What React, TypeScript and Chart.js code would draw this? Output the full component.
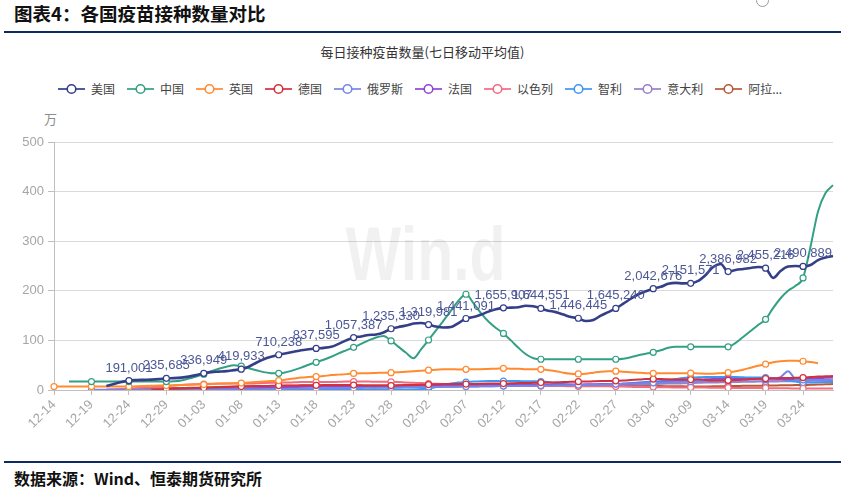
import React, { useEffect, useRef } from "react";
import { Chart, registerables } from "chart.js";
Chart.register(...registerables);

const dates = [
  "12-14","12-15","12-16","12-17","12-18",
  "12-19","12-20","12-21","12-22","12-23",
  "12-24","12-25","12-26","12-27","12-28",
  "12-29","12-30","12-31","01-01","01-02",
  "01-03","01-04","01-05","01-06","01-07",
  "01-08","01-09","01-10","01-11","01-12",
  "01-13","01-14","01-15","01-16","01-17",
  "01-18","01-19","01-20","01-21","01-22",
  "01-23","01-24","01-25","01-26","01-27",
  "01-28","01-29","01-30","01-31","02-01",
  "02-02","02-03","02-04","02-05","02-06",
  "02-07","02-08","02-09","02-10","02-11",
  "02-12","02-13","02-14","02-15","02-16",
  "02-17","02-18","02-19","02-20","02-21",
  "02-22","02-23","02-24","02-25","02-26",
  "02-27","02-28","03-01","03-02","03-03",
  "03-04","03-05","03-06","03-07","03-08",
  "03-09","03-10","03-11","03-12","03-13",
  "03-14","03-15","03-16","03-17","03-18",
  "03-19","03-20","03-21","03-22","03-23",
  "03-24","03-25","03-26","03-27","03-28",
];

const seriesNames = ["美国", "中国", "英国", "德国", "俄罗斯", "法国", "以色列", "智利", "意大利", "阿拉..."];
const seriesColors = ["#343f88", "#33a083", "#ff8a30", "#d3303b", "#7387e6", "#9146d2", "#f26b7f", "#3f96f2", "#9a80c6", "#b55a36"];

const yTicks = [0, 100, 200, 300, 400, 500];

// unit: 万 (10,000 doses)
const usData = [
  null, null, null, null, null,
  null, null, 8, 12, 16,
  19.1001, 20, 20.5, 21, 22,
  23.5685, 24, 25, 27, 30,
  33.6949, 36, 37, 38, 40,
  41.9933, 47, 55, 62, 67,
  71.0238, 74, 77, 80, 82,
  83.7595, 85, 87, 93, 100,
  105.7387, 108, 111, 112, 116,
  123.533, 127, 130, 134, 135,
  131.9981, 128, 126, 127, 135,
  144.1091, 147, 152, 158, 163,
  165.5907, 166, 167, 170, 169,
  164.4551, 160, 157, 152, 147,
  144.6445, 139, 141, 150, 157,
  164.524, 174, 184, 193, 199,
  204.2676, 208, 214, 216, 215,
  215.1571, 220, 232, 248, 254,
  238.6982, 242, 244, 246, 248,
  245.5216, 226, 240, 249, 250,
  249.0889, 252, 262, 267, 270,
];

const chinaData = [
  null, null, 17, 17, 17,
  17, 17, 17, 17, 17,
  17, 17, 17, 17, 17,
  17, 17.5, 19, 23, 27,
  32, 38, 43, 47, 50,
  48, 44, 40, 36, 34,
  33.6, 36, 40, 45, 51,
  55.8, 61, 67, 74, 80,
  86, 93, 100, 106, 109,
  99, 87, 75, 64, 82,
  100.8, 120, 140, 160, 180,
  193, 175, 155, 138, 125,
  114, 100, 85, 72, 64,
  62, 62, 62, 62, 62,
  62, 62, 62, 62, 62,
  62, 63, 66, 70, 73,
  76, 80, 85, 87, 87,
  87, 87, 87, 87, 87,
  87, 95, 107, 119, 131,
  142.5, 165, 185, 200, 210,
  226, 289, 360, 397, 413,
];

const ukData = [
  7, 7, 7, 7, 7,
  7, 7, 7, 7, 7,
  7, 7.5, 8, 8.5, 9,
  9, 9.5, 10, 10.5, 11,
  11, 12, 12.5, 13, 13.5,
  14, 15, 16, 17, 18,
  19, 21, 23, 25, 26,
  27, 28, 30, 31, 32,
  33.5, 34, 34, 34.5, 35,
  35, 36, 37, 38, 39,
  40, 41, 42, 42, 41.5,
  41.6, 42, 42, 42.5, 43,
  43.6, 43, 43, 42, 42,
  41.6, 40, 38, 35, 33,
  32.5, 33, 35, 37, 38,
  38, 37, 36, 35, 34,
  33.6, 34, 34, 34, 34,
  34, 33.5, 33, 33, 34,
  35, 38, 41, 45, 49,
  52, 56, 58, 59, 59,
  58, 56.5, 54, null, null,
];

const germanyData = [
  null, null, null, null, null,
  null, null, null, null, null,
  null, null, null, 0.5, 1,
  2, 2.5, 3, 3.5, 4,
  4.5, 5, 5.5, 6, 6.5,
  7, 7.5, 8, 8, 8.5,
  9, 9, 9, 9.5, 9.5,
  9.5, 10, 10, 10, 10,
  10, 9.5, 9, 9, 9,
  9, 9.5, 10, 10, 10.5,
  11, 11.5, 12, 12, 12,
  12, 12, 12.5, 13, 13,
  13, 13.5, 14, 14, 14.5,
  15, 15, 15.5, 16, 16.5,
  17, 17, 17.5, 18, 18,
  18.5, 19, 20, 21, 22,
  22, 22, 21.5, 21, 21,
  21, 21, 20, 19, 19,
  19.5, 20, 21, 22, 22.5,
  23, 23.5, 24, 24, 24.5,
  25, 26, 27, 27.5, 28,
];

const russiaData = [
  null, null, null, null, null,
  0.5, 0.5, 0.5, 0.5, 0.5,
  0.6, 0.6, 0.7, 0.7, 0.8,
  0.8, 0.9, 0.9, 1, 1,
  1, 1, 1.1, 1.2, 1.3,
  1.4, 1.5, 1.6, 1.8, 2,
  2, 2.2, 2.4, 2.6, 2.8,
  3, 3.2, 3.4, 3.6, 3.8,
  4, 4.2, 4.4, 4.6, 4.8,
  5, 5.2, 5.4, 5.6, 5.8,
  6, 6.2, 6.4, 6.6, 6.8,
  7, 7.2, 7.4, 7.6, 7.8,
  8, 8.2, 8.4, 8.6, 8.8,
  9, 9.2, 9.4, 9.6, 9.8,
  10, 10.3, 10.6, 11, 11.5,
  12, 12.5, 13, 13.5, 14,
  14.5, 15, 15.5, 16, 16.5,
  17, 17.5, 18, 18.5, 19,
  19.5, 20, 20.5, 21, 21.5,
  22, 23, 26, 38, 22,
  20.5, 20, 20, 20, 20,
];

const franceData = [
  null, null, null, null, null,
  null, null, null, null, null,
  null, null, null, 0.1, 0.1,
  0.1, 0.1, 0.1, 0.2, 0.2,
  0.3, 0.5, 1, 1.5, 2,
  2.5, 3, 3.5, 4, 4.5,
  5, 5.5, 6, 6.5, 7,
  7, 7.5, 7.5, 8, 8,
  8, 8, 8, 8, 8,
  8, 8.5, 8.5, 9, 9,
  9, 9.5, 9.5, 10, 10,
  10, 10, 10, 10.5, 10.5,
  10.5, 10.5, 11, 11, 11,
  11, 11, 11, 11, 11,
  11, 11.5, 11.5, 12, 12,
  12, 12.5, 13, 14, 14.5,
  15, 16, 17, 18, 19,
  20, 21, 21.5, 22, 22,
  22, 22, 22, 21.5, 21.5,
  21, 21, 21.5, 22, 22,
  22, 23, 24, 24.5, 25,
];

const israelData = [
  null, null, null, null, null,
  null, null, 1, 1.5, 2,
  2.5, 3.5, 4.5, 5.5, 7,
  8, 9, 10, 11, 11.5,
  12, 12.5, 13, 13, 13,
  13, 13, 13.5, 14, 14.5,
  15, 15, 15.5, 16, 16,
  16, 16, 16, 16.5, 17,
  17, 17, 17, 16.5, 16.5,
  16.5, 16, 15, 14.5, 14,
  13, 12.5, 12, 11.5, 11,
  11, 11, 11, 11, 11,
  10.5, 10, 9.5, 9, 8.5,
  8, 8, 8, 8, 7.5,
  7.5, 7.5, 7.5, 7.5, 7.5,
  7, 7, 6.5, 6, 6,
  6, 5.5, 5.5, 5, 5,
  5, 5, 5, 4.5, 4.5,
  4.5, 4, 4, 4, 4,
  4, 3.5, 3.5, 3.5, 3,
  3, 3, 3, 3, 3,
];

const chileData = [
  null, null, null, null, null,
  null, null, null, null, null,
  0.2, 0.2, 0.2, 0.2, 0.2,
  0.2, 0.2, 0.2, 0.2, 0.2,
  0.3, 0.3, 0.3, 0.3, 0.3,
  0.3, 0.3, 0.3, 0.3, 0.3,
  0.4, 0.4, 0.4, 0.4, 0.4,
  0.4, 0.4, 0.4, 0.4, 0.4,
  0.5, 0.5, 0.5, 0.5, 0.5,
  0.5, 0.5, 0.6, 1, 2,
  3, 6, 10, 13, 15,
  16, 17, 17.5, 18, 18,
  18, 18, 18, 17.5, 17.5,
  17, 16, 14, 12, 10.5,
  10, 10, 10, 10.5, 11,
  11.5, 12.5, 14, 15, 16,
  17, 18, 20, 22, 24,
  25, 25.5, 26, 26, 26,
  26, 26, 25.5, 25, 25,
  25, 24, 22, 19, 17,
  15, 15, 15.5, 16, 16,
];

const italyData = [
  null, null, null, null, null,
  null, null, null, null, null,
  null, null, null, 0.1, 0.2,
  0.3, 0.5, 0.8, 1, 1.5,
  2, 2.5, 3, 4, 4.5,
  5, 5.5, 6, 6.5, 7,
  7, 7, 7, 7, 7,
  7, 6.5, 6.5, 6, 6,
  6, 5.5, 5.5, 5, 5,
  5, 5, 5.5, 5.5, 6,
  6, 6, 6.5, 6.5, 7,
  7, 7, 7.5, 7.5, 8,
  8, 8, 8, 8.5, 8.5,
  8.5, 8.5, 9, 9, 9,
  9, 9, 9.5, 9.5, 10,
  10, 10.5, 11, 11, 11.5,
  12, 12.5, 13, 13, 13.5,
  14, 14.5, 15, 15, 15.5,
  16, 16, 16.5, 16.5, 17,
  17, 17, 17.5, 17.5, 18,
  18, 18.5, 18.5, 19, 19,
];

const uaeData = [
  null, null, null, null, null,
  null, null, null, null, null,
  2, 2.5, 3, 3, 3.5,
  3.5, 4, 4, 4.5, 4.5,
  5, 5.5, 6, 6.5, 7,
  7, 7.5, 7.5, 8, 8,
  8, 8.5, 8.5, 9, 9,
  9, 9, 9, 9, 9,
  9, 9, 9, 9, 9,
  9, 9, 9.5, 9.5, 9.5,
  9.5, 10, 10, 10, 10,
  10, 10, 10, 10, 10,
  10, 10, 10, 10, 10,
  10, 10, 9.5, 9.5, 9.5,
  9, 9, 9, 9, 9,
  9, 8.5, 8.5, 8.5, 8,
  8, 8, 7.5, 7.5, 7.5,
  7, 7, 7, 7.5, 7.5,
  8, 8, 8.5, 8.5, 8.5,
  9, 9, 9.5, 9.5, 10,
  10, 10.5, 11, 11.5, 12,
];

const seriesData = [usData, chinaData, ukData, germanyData, russiaData, franceData, israelData, chileData, italyData, uaeData];

const watermarkPlugin = {
  id: "watermark",
  beforeDatasetsDraw(chart: any) {
    const { ctx, chartArea } = chart;
    ctx.save();
    ctx.font = 'bold 76px "Liberation Sans", Arial, sans-serif';
    ctx.fillStyle = "rgba(0,0,0,0.055)";
    ctx.textAlign = "center";
    ctx.textBaseline = "middle";
    const cx = chartArea.left + (chartArea.right - chartArea.left) * 0.477;
    const cy = chartArea.top + (chartArea.bottom - chartArea.top) * 0.47;
    const w = ctx.measureText("Win.d").width;
    ctx.translate(cx, cy);
    ctx.scale(160 / w, 1);
    ctx.fillText("Win.d", 0, 0);
    ctx.restore();
  },
};

const usLabelPlugin = {
  id: "usLabels",
  afterDatasetsDraw(chart: any) {
    const meta = chart.getDatasetMeta(0);
    const ctx = chart.ctx;
    ctx.save();
    ctx.font = '13px "Liberation Sans", Arial, sans-serif';
    ctx.fillStyle = "#4c5796";
    ctx.textAlign = "center";
    ctx.textBaseline = "alphabetic";
    meta.data.forEach((pt: any, i: number) => {
      const v = usData[i];
      if (v == null || i % 5 !== 0) return;
      const txt = Math.round(v * 10000).toLocaleString("en-US");
      ctx.fillText(txt, pt.x, pt.y - 9);
    });
    ctx.restore();
  },
};

export default function App() {
  const canvasRef = useRef<HTMLCanvasElement>(null);

  useEffect(() => {
    document.body.style.margin = "0";
    const canvas = canvasRef.current;
    if (!canvas) return;
    const chart = new Chart(canvas, {
      type: "line",
      data: {
        labels: dates,
        datasets: seriesNames.map((name, i) => ({
          label: name,
          data: seriesData[i],
          borderColor: seriesColors[i],
          backgroundColor: seriesColors[i],
          borderWidth: i === 0 ? 2.6 : 2,
          cubicInterpolationMode: "monotone",
          tension: 0.4,
          pointRadius: (c: any) => (c.dataIndex % 5 === 0 ? 3 : 0),
          pointBackgroundColor: "#ffffff",
          pointBorderColor: seriesColors[i],
          pointBorderWidth: 1.2,
          pointHoverRadius: 0,
          spanGaps: false,
        })) as any,
      },
      options: {
        animation: false,
        responsive: false,
        devicePixelRatio: 1,
        layout: { padding: { top: 32, right: 12, left: 0, bottom: 0 } },
        plugins: {
          legend: { display: false },
          tooltip: { enabled: false },
        },
        scales: {
          x: {
            type: "category",
            offset: false,
            grid: { drawOnChartArea: false, drawTicks: true, tickLength: 5, tickColor: "#bfbfbf" },
            border: { display: true, color: "#bfbfbf", width: 1 },
            ticks: {
              autoSkip: false,
              maxRotation: 45,
              minRotation: 45,
              padding: 2,
              color: "#a6a6a6",
              font: { size: 13, family: '"Liberation Sans", Arial, sans-serif' },
              callback: (_v: any, idx: number) => (idx % 5 === 0 ? dates[idx] : null),
            },
            afterFit: (s: any) => { s.height = 65; },
          },
          y: {
            min: yTicks[0],
            max: yTicks[yTicks.length - 1],
            afterBuildTicks: (s: any) => { s.ticks = yTicks.map((v) => ({ value: v })); },
            grid: { color: "#d9d9d9", tickLength: 6, tickColor: "#bfbfbf", lineWidth: 1 },
            border: { display: true, color: "#bfbfbf", width: 1 },
            ticks: {
              padding: 4,
              color: "#a6a6a6",
              font: { size: 13, family: '"Liberation Sans", Arial, sans-serif' },
            },
            afterFit: (s: any) => { s.width = 54; },
          },
        },
      },
      plugins: [watermarkPlugin, usLabelPlugin],
    });
    return () => chart.destroy();
  }, []);

  const cjk = '"Noto Sans CJK SC", "Noto Sans", sans-serif';

  return (
    <div style={{ position: "relative", width: 845, height: 499, background: "#fff", overflow: "hidden", fontFamily: cjk }}>
      <div style={{ position: "absolute", left: 14, top: 0, fontSize: 18.5, fontWeight: 700, lineHeight: "26px", color: "#111" }}>
        图表4：各国疫苗接种数量对比
      </div>
      <div style={{ position: "absolute", left: 756, top: -6, width: 11, height: 11, border: "1px solid #9a9a9a", borderRadius: "50%" }} />
      <div style={{ position: "absolute", left: 4, top: 31, width: 837, height: 2, background: "#0d2a62" }} />
      <div style={{ position: "absolute", left: 0, width: 845, top: 43, textAlign: "center", fontSize: 13, lineHeight: "18px", color: "#333", paddingLeft: 0 }}>
        <span style={{ position: "relative", left: 0 }}>每日接种疫苗数量(七日移动平均值)</span>
      </div>
      <div style={{ position: "absolute", left: 58, top: 80, height: 18, display: "flex", alignItems: "center", gap: 12 }}>
        {seriesNames.map((name, i) => (
          <div key={name} style={{ display: "flex", alignItems: "center" }}>
            <svg width="27" height="12" style={{ display: "block" }}>
              <line x1="0" y1="6" x2="27" y2="6" stroke={seriesColors[i]} strokeWidth="2" strokeOpacity="0.85" />
              <circle cx="13.5" cy="6" r="4.3" fill="#fff" stroke={seriesColors[i]} strokeWidth="1.6" />
            </svg>
            <span style={{ marginLeft: 6, fontSize: 12, lineHeight: "18px", color: "#444", whiteSpace: "nowrap" }}>{name}</span>
          </div>
        ))}
      </div>
      <div style={{ position: "absolute", left: 44, top: 111, fontSize: 13, lineHeight: "16px", color: "#8c8c8c" }}>万</div>
      <canvas ref={canvasRef} width={845} height={345} style={{ position: "absolute", left: 0, top: 110, width: 845, height: 345 }} />
      <div style={{ position: "absolute", left: 4, top: 461, width: 837, height: 2, background: "#0d2a62" }} />
      <div style={{ position: "absolute", left: 14, top: 467, fontSize: 16, fontWeight: 700, lineHeight: "22px", color: "#111" }}>
        数据来源：Wind、恒泰期货研究所
      </div>
    </div>
  );
}
